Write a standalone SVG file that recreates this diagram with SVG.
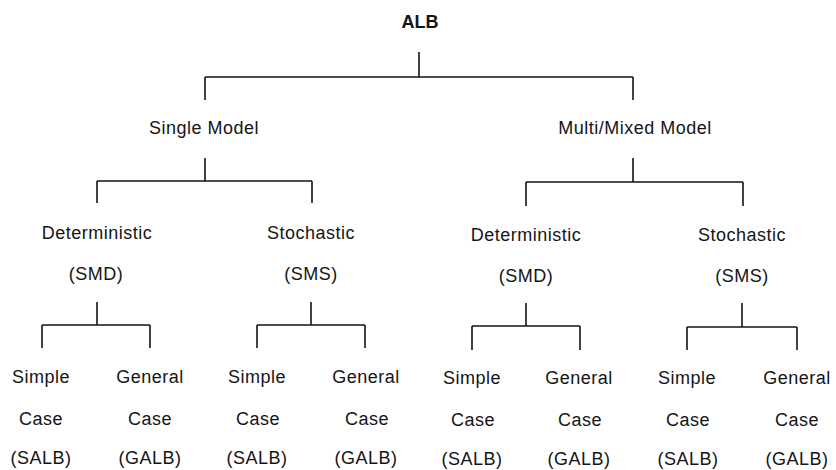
<svg xmlns="http://www.w3.org/2000/svg" width="836" height="470" viewBox="0 0 836 470">
<style>
  text { font-family: "Liberation Sans", Arial, sans-serif; font-size: 18px; fill: #151515; text-anchor: middle; letter-spacing: 0.5px; }
  .root { font-weight: bold; letter-spacing: 0; }
  .conn path { fill: none; stroke: #151515; stroke-width: 1.6; }
</style>
<rect width="836" height="470" fill="#ffffff"/>
<g class="conn" id="connectors">
  <path d="M419 52 V77 M205 77 H633 M205 77 V100 M633 77 V100"/>
  <path d="M205 158 V181 M97 181 H312 M97 181 V203 M312 181 V203"/>
  <path d="M633 158 V182 M526 182 H743 M526 182 V206 M743 182 V206"/>
  <path d="M97 302 V325 M42 325 H150 M42 325 V348 M150 325 V348"/>
  <path d="M311 302 V325 M257 325 H365 M257 325 V348 M365 325 V348"/>
  <path d="M526 303 V326 M472 326 H580 M472 326 V350 M580 326 V350"/>
  <path d="M742 303 V327 M687 327 H797 M687 327 V350 M797 327 V350"/>
</g>
<g id="alb"><text class="root" x="420" y="28">ALB</text></g>
<g id="single"><text x="204" y="134">Single Model</text></g>
<g id="multi"><text x="635" y="134">Multi/Mixed Model</text></g>
<g id="sm-det"><text x="97" y="239">Deterministic</text><text x="96" y="280">(SMD)</text></g>
<g id="sm-sto"><text x="311" y="239">Stochastic</text><text x="311" y="280">(SMS)</text></g>
<g id="mm-det"><text x="526" y="241">Deterministic</text><text x="526" y="282">(SMD)</text></g>
<g id="mm-sto"><text x="742" y="241">Stochastic</text><text x="742" y="282">(SMS)</text></g>
<g id="l1"><text x="41" y="383">Simple</text><text x="41" y="425">Case</text><text x="41" y="464">(SALB)</text></g>
<g id="l2"><text x="150" y="383">General</text><text x="150" y="425">Case</text><text x="150" y="464">(GALB)</text></g>
<g id="l3"><text x="257" y="383">Simple</text><text x="258" y="425">Case</text><text x="257" y="464">(SALB)</text></g>
<g id="l4"><text x="366" y="383">General</text><text x="367" y="425">Case</text><text x="366" y="464">(GALB)</text></g>
<g id="l5"><text x="472" y="384">Simple</text><text x="473" y="426">Case</text><text x="472" y="465">(SALB)</text></g>
<g id="l6"><text x="579" y="384">General</text><text x="580" y="426">Case</text><text x="579" y="465">(GALB)</text></g>
<g id="l7"><text x="687" y="384">Simple</text><text x="688" y="426">Case</text><text x="688" y="465">(SALB)</text></g>
<g id="l8"><text x="797" y="384">General</text><text x="797" y="426">Case</text><text x="797" y="465">(GALB)</text></g>
</svg>
